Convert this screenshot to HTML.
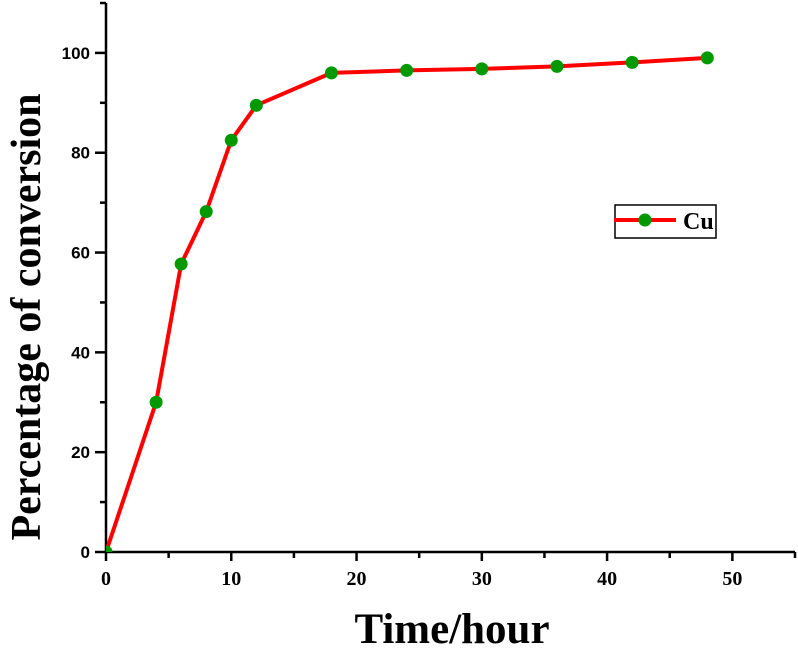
<!DOCTYPE html>
<html><head><meta charset="utf-8"><style>
html,body{margin:0;padding:0;background:#fff;}
svg{display:block;}
</style></head><body>
<svg id="chart" width="798" height="648" xmlns="http://www.w3.org/2000/svg">
<defs><clipPath id="plotclip"><rect x="106" y="0" width="692" height="552"/></clipPath></defs>
<g id="axes"></g><g id="series" clip-path="url(#plotclip)"></g>
<g>
<rect x="615" y="205" width="101" height="33" fill="#fff" stroke="#000" stroke-width="1.5"/>
<line x1="614" y1="220" x2="676" y2="220" stroke="#ff0000" stroke-width="4"/>
<circle cx="645" cy="220" r="6.5" fill="#009900"/>
<text x="683" y="229" font-family="Liberation Serif, serif" font-weight="bold" font-size="24">Cu</text>
</g>
<text x="452" y="643" text-anchor="middle" font-family="Liberation Serif, serif" font-weight="bold" font-size="43">Time/hour</text>
<text transform="translate(40,317) rotate(-90)" text-anchor="middle" font-family="Liberation Serif, serif" font-weight="bold" font-size="42">Percentage of conversion</text>
</svg>
<script>
const xValues=[0,4,6,8,10,12,18,24,30,36,42,48];
const yValues=[0,30,57.7,68.2,82.5,89.5,96,96.5,96.8,97.3,98.1,99];
const xTicks=[0,10,20,30,40,50];
const yTicks=[0,20,40,60,80,100];
const NS="http://www.w3.org/2000/svg";
const X0=106,X1=795,Y0=552,Y1=3,XMAX=55,YMAX=110;
function sx(v){return X0+v*(X1-X0)/XMAX;}
function sy(v){return Y0-v*(Y0-Y1)/YMAX;}
function mk(tag,attrs,parent){const e=document.createElementNS(NS,tag);for(const k in attrs)e.setAttribute(k,attrs[k]);parent.appendChild(e);return e;}
const axes=document.getElementById('axes');
let e=mk('line',{x1:X0,y1:Y1,x2:X0,y2:Y0+1,stroke:'#000','stroke-width':2.5},axes);


e=mk('line',{x1:X0-1,y1:Y0,x2:X1,y2:Y0,stroke:'#000','stroke-width':2.5},axes);


for(let v=0;v<=XMAX;v+=5){
  const major=v%10===0;
  e=mk('line',{x1:sx(v),y1:Y0,x2:sx(v),y2:Y0+(major?9:6),stroke:'#000','stroke-width':2.5},axes);
  
  
}
xTicks.forEach(v=>{
  e=mk('text',{x:sx(v),y:Y0+33,'text-anchor':'middle','font-family':'Liberation Serif, serif','font-weight':'bold','font-size':20},axes);
  e.textContent=v;
  
  
});
for(let v=0;v<=YMAX;v+=10){
  const major=v%20===0;
  e=mk('line',{x1:X0-(major?11:6),y1:sy(v),x2:X0,y2:sy(v),stroke:'#000','stroke-width':2.5},axes);
  
  
}
yTicks.forEach(v=>{
  e=mk('text',{x:X0-16,y:sy(v)+6,'text-anchor':'end','font-family':'Liberation Sans, sans-serif','font-weight':'bold','font-size':17},axes);
  e.textContent=v;
  
  
});
const series=document.getElementById('series');
e=mk('polyline',{points:xValues.map((x,i)=>sx(x)+','+sy(yValues[i])).join(' '),fill:'none',stroke:'#ff0000','stroke-width':4,'stroke-linejoin':'round'},series);


xValues.forEach((x,i)=>{
  e=mk('circle',{cx:sx(x),cy:sy(yValues[i]),r:6.5,fill:'#009900'},series);
  
  
});
</script>
</body></html>
